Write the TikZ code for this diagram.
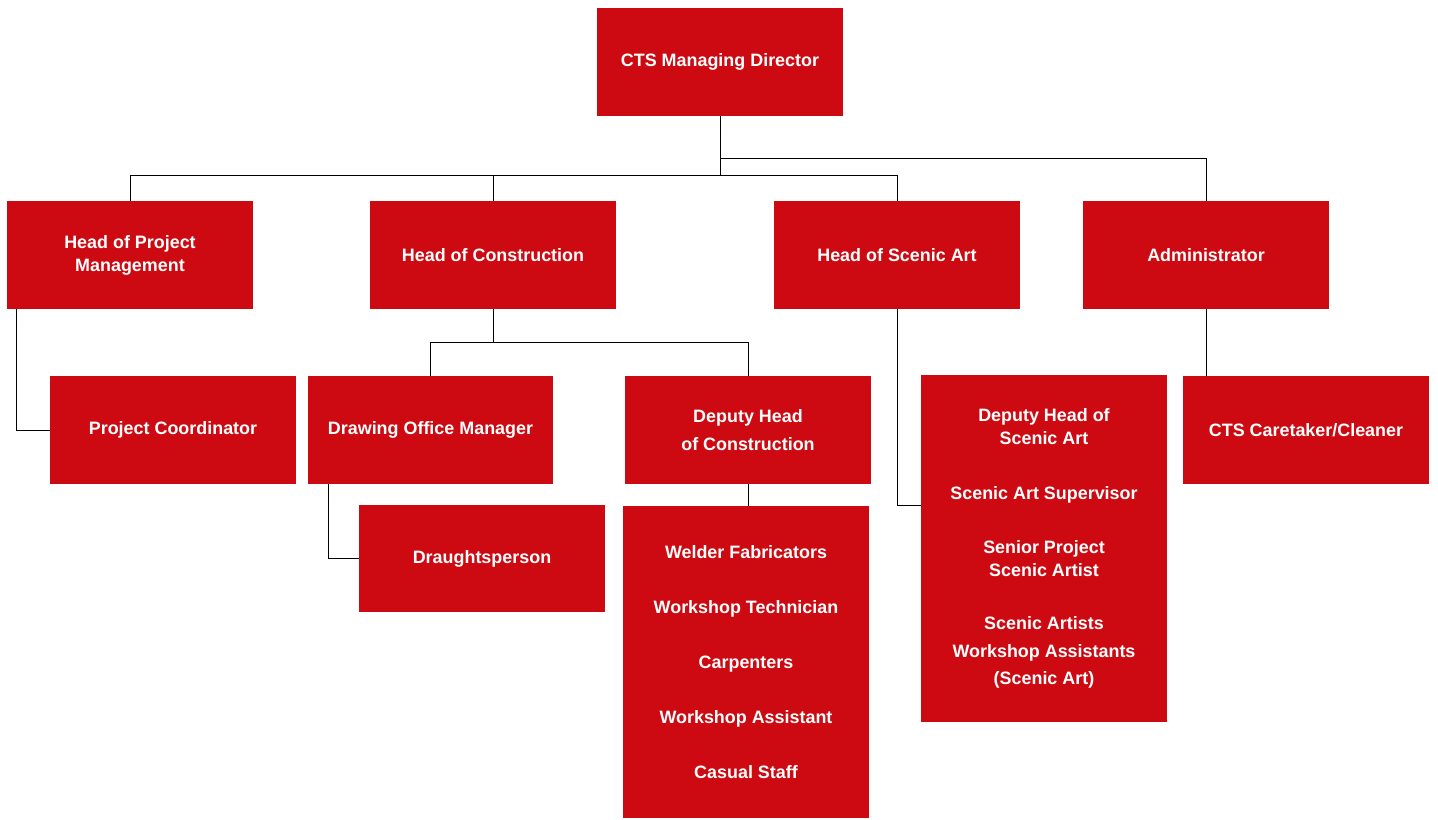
\documentclass[tikz,border=0pt]{standalone}
\usepackage{fontspec}
\setmainfont{Liberation Sans}
\definecolor{ctsred}{RGB}{205,10,18}
\begin{document}
\begin{tikzpicture}[x=0.02cm, y=-0.02cm,
  role/.style={fill=ctsred, text=white, font=\bfseries\fontsize{10.2}{13}\selectfont, align=center, minimum width=4.92cm, minimum height=2.16cm, inner sep=0pt},
  link/.style={draw=black, line width=0.55pt}]
\path[use as bounding box] (0,0) rectangle (1438,819);

\node[role] (md) at (720,62) {CTS Managing Director};
\node[role] (hpm) at (130,255) {Head of Project\\Management};
\node[role] (hc) at (493,255) {Head of Construction};
\node[role] (hsa) at (897,255) {Head of Scenic Art};
\node[role] (adm) at (1206,255) {Administrator};

\node[role] (pc) at (173,430) {Project Coordinator};
\node[role] (dom) at (430.5,430) {Drawing Office Manager};
\node[role] (dhc) at (748,430) {Deputy Head\\[0.1cm]of Construction};
\node[role] (ct) at (1306,430) {CTS Caretaker/Cleaner};
\node[role] (dp) at (482,558.5) {Draughtsperson};

\node[role, minimum height=6.24cm] (staff) at (746,662) {Welder Fabricators\\[0.64cm]Workshop Technician\\[0.64cm]Carpenters\\[0.64cm]Workshop Assistant\\[0.64cm]Casual Staff};
\node[role, minimum height=6.94cm] (sa) at (1044,548.5) {Deputy Head of\\Scenic Art\\[0.64cm]Scenic Art Supervisor\\[0.62cm]Senior Project\\Scenic Artist\\[0.62cm]Scenic Artists\\[0.1cm]Workshop Assistants\\[0.08cm](Scenic Art)};

\draw[link] (md.south) -- ++(0,59) -| (hpm.north);
\draw[link] (md.south) -- ++(0,59) -| (hc.north);
\draw[link] (md.south) -- ++(0,59) -| (hsa.north);
\draw[link] (md.south) -- ++(0,42) -| (adm.north);

\draw[link] ([xshift=0.2cm]hpm.south west) |- (pc.west);
\draw[link] (hc.south) -- ++(0,33) -| (dom.north);
\draw[link] (hc.south) -- ++(0,33) -| (dhc.north);
\draw[link] ([xshift=0.42cm]dom.south west) |- (dp.west);
\draw[link] (dhc.south) -- (dhc.south |- staff.north);
\draw[link] (hsa.south) |- ([yshift=-2.62cm]sa.north west);
\draw[link] (adm.south) -- (adm.south |- ct.north);
\end{tikzpicture}
\end{document}
